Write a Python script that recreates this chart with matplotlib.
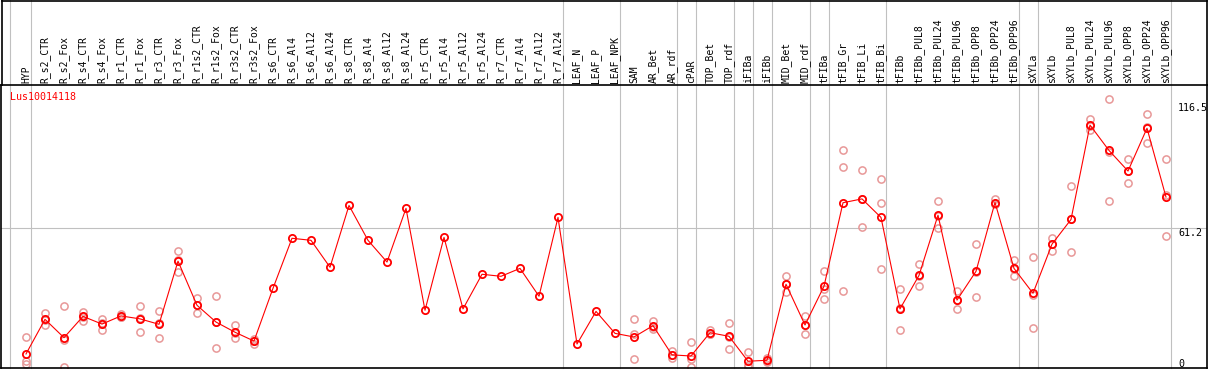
import numpy as np
import matplotlib
matplotlib.use("Agg")
import matplotlib.pyplot as plt
import matplotlib.transforms as mtransforms
from matplotlib.lines import Line2D

plt.rcParams['font.family'] = 'DejaVu Sans Mono'

gene = "Lus10014118"

samples = ["HYP", "R_s2_CTR", "R_s2_Fox", "R_s4_CTR", "R_s4_Fox", "R_r1_CTR", "R_r1_Fox",
           "R_r3_CTR", "R_r3_Fox", "R_r1s2_CTR", "R_r1s2_Fox", "R_r3s2_CTR", "R_r3s2_Fox",
           "R_s6_CTR", "R_s6_Al4", "R_s6_Al12", "R_s6_Al24", "R_s8_CTR", "R_s8_Al4",
           "R_s8_Al12", "R_s8_Al24", "R_r5_CTR", "R_r5_Al4", "R_r5_Al12", "R_r5_Al24",
           "R_r7_CTR", "R_r7_Al4", "R_r7_Al12", "R_r7_Al24", "LEAF_N", "LEAF_P", "LEAF_NPK",
           "SAM", "AR_Bet", "AR_rdf", "cPAR", "TOP_Bet", "TOP_rdf", "iFIBa", "iFIBb",
           "MID_Bet", "MID_rdf", "tFIBa", "tFIB_Gr", "tFIB_Li", "tFIB_Bi", "tFIBb",
           "tFIBb_PUL8", "tFIBb_PUL24", "tFIBb_PUL96", "tFIBb_OPP8", "tFIBb_OPP24",
           "tFIBb_OPP96", "sXYLa", "sXYLb", "sXYLb_PUL8", "sXYLb_PUL24", "sXYLb_PUL96",
           "sXYLb_OPP8", "sXYLb_OPP24", "sXYLb_OPP96"]

means = [5.6, 20.9, 12.8, 22.2, 18.8, 22.4, 21.1, 18.7, 46.6, 27.1, 19.7, 15.2, 11.3,
         34.6, 56.7, 55.8, 43.9, 71.2, 55.8, 46.2, 69.9, 24.9, 57.1, 25.5, 40.8,
         39.9, 43.4, 31.1, 65.9, 10.0, 24.4, 14.7,
         13.1, 18.1, 5.2, 4.7, 15.0, 13.4, 2.4, 2.8, 36.4, 18.4, 35.5, 72.4, 74.1, 65.9,
         25.5, 40.3, 66.9, 29.4, 42.1, 72.5, 43.4, 32.4, 54.1, 65.0, 106.7, 95.5, 86.4,
         105.3, 74.9]

replicates = [[13.1, 2.7, 1.2], [23.7, 18.4, 20.6], [26.7, 0.0, 11.7], [24.3, 20.3, 22.0],
              [21.2, 16.1, 19.2], [23.2, 21.9, 22.1], [26.7, 15.2, 21.4], [24.4, 12.5, 19.2],
              [51.1, 41.7, 47.0], [30.3, 23.6, 27.4], [31.1, 8.1, 19.9], [18.4, 12.5, 14.7],
              [12.2, 10.2, 11.5],
              [], [], [], [], [], [], [], [], [], [], [], [], [], [], [], [], [], [], [],
              [20.9, 3.3, 14.4], [20.2, 16.8, 17.3], [6.9, 3.7, 5.0], [10.8, 0.0, 3.3],
              [16.2, 14.3, 14.5], [19.2, 7.8, 13.2], [6.4, 0.0, 0.8], [4.0, 1.9, 2.5],
              [39.9, 32.8, 36.5], [22.2, 14.6, 18.4], [42.2, 29.7, 34.4], [95.6, 88.3, 33.4],
              [86.7, 61.7, 73.9], [83.1, 72.2, 43.0], [34.2, 16.2, 26.1], [45.3, 35.6, 40.0],
              [73.1, 61.1, 66.5], [33.4, 25.5, 29.3], [54.0, 30.6, 41.7], [73.9, 71.8, 71.8],
              [47.1, 40.0, 43.1], [48.4, 17.1, 31.7], [56.9, 51.2, 54.2], [79.6, 50.5, 65.0],
              [109.3, 104.5, 106.2], [118.4, 73.1, 95.0], [91.5, 81.1, 86.6],
              [111.4, 98.6, 105.9], [91.5, 57.5, 75.7]]

# last sample index of each group (-1 marks the line before the first one)
group_ends = [-1, 0, 28, 31, 34, 35, 37, 38, 39, 41, 42, 45, 52, 53, 60]

scale_labels = [116.5, 61.2, 0]

W, H = 1209, 370
fig = plt.figure(figsize=(W / 100, H / 100), dpi=100)
ax = fig.add_axes([1 / W, 2 / H, 1206 / W, 283 / H])

x = np.arange(len(samples))

# group separators, running up through the label area
for g in group_ends:
    xv = g + 0.24 if g >= 0 else -0.84
    ax.axvline(xv, ymin=0, ymax=368 / 283, color="#c0c0c0", lw=0.8, clip_on=False, zorder=0)
ax.axhline(scale_labels[1], color="#c0c0c0", lw=0.8, zorder=0)

for i, reps in enumerate(replicates):
    if reps:
        ax.plot([x[i]] * len(reps), reps, linestyle="none", marker="o", ms=5.2,
                mfc="none", mec="#e89898", mew=1.1, zorder=2)

ax.plot(x, means, color="red", lw=0.8, marker="o", ms=5.2, mfc="none", mec="red",
        mew=1.3, zorder=3)

ax.set_xlim((1 - 26) / 19, (1207 - 26) / 19)
ax.set_ylim(-0.6, 124.4)
ax.set_xticks([])
ax.set_yticks([])
for s in ax.spines.values():
    s.set_linewidth(1.2)

# sample labels above the plot
lab_trans = mtransforms.offset_copy(ax.get_xaxis_transform(), fig=fig, x=0, y=2, units="dots")
for i, name in enumerate(samples):
    ax.text(x[i], 1.0, name, rotation=90, ha="center", va="bottom", fontsize=7,
            transform=lab_trans, clip_on=False)

# scale values on the right
for v in scale_labels:
    ax.text((1178 - 1) / 1206, v, f"{v:g}" if v else "0", fontsize=7.2,
            va="top" if v else "baseline", ha="left",
            transform=ax.get_yaxis_transform(), clip_on=True)

fig.text(10 / W, 1 - 97 / H, gene, color="red", fontsize=7.2, va="center", ha="left")

# outer frame around the label area
fig.add_artist(Line2D([1.5 / W, 1206.5 / W], [1 - 0.5 / H, 1 - 0.5 / H], color="black", lw=1.2))
fig.add_artist(Line2D([1.5 / W, 1.5 / W], [1 - 85 / H, 1], color="black", lw=1.2))
fig.add_artist(Line2D([1206.5 / W, 1206.5 / W], [1 - 85 / H, 1], color="black", lw=1.2))

fig.savefig("out.png", dpi=100)
